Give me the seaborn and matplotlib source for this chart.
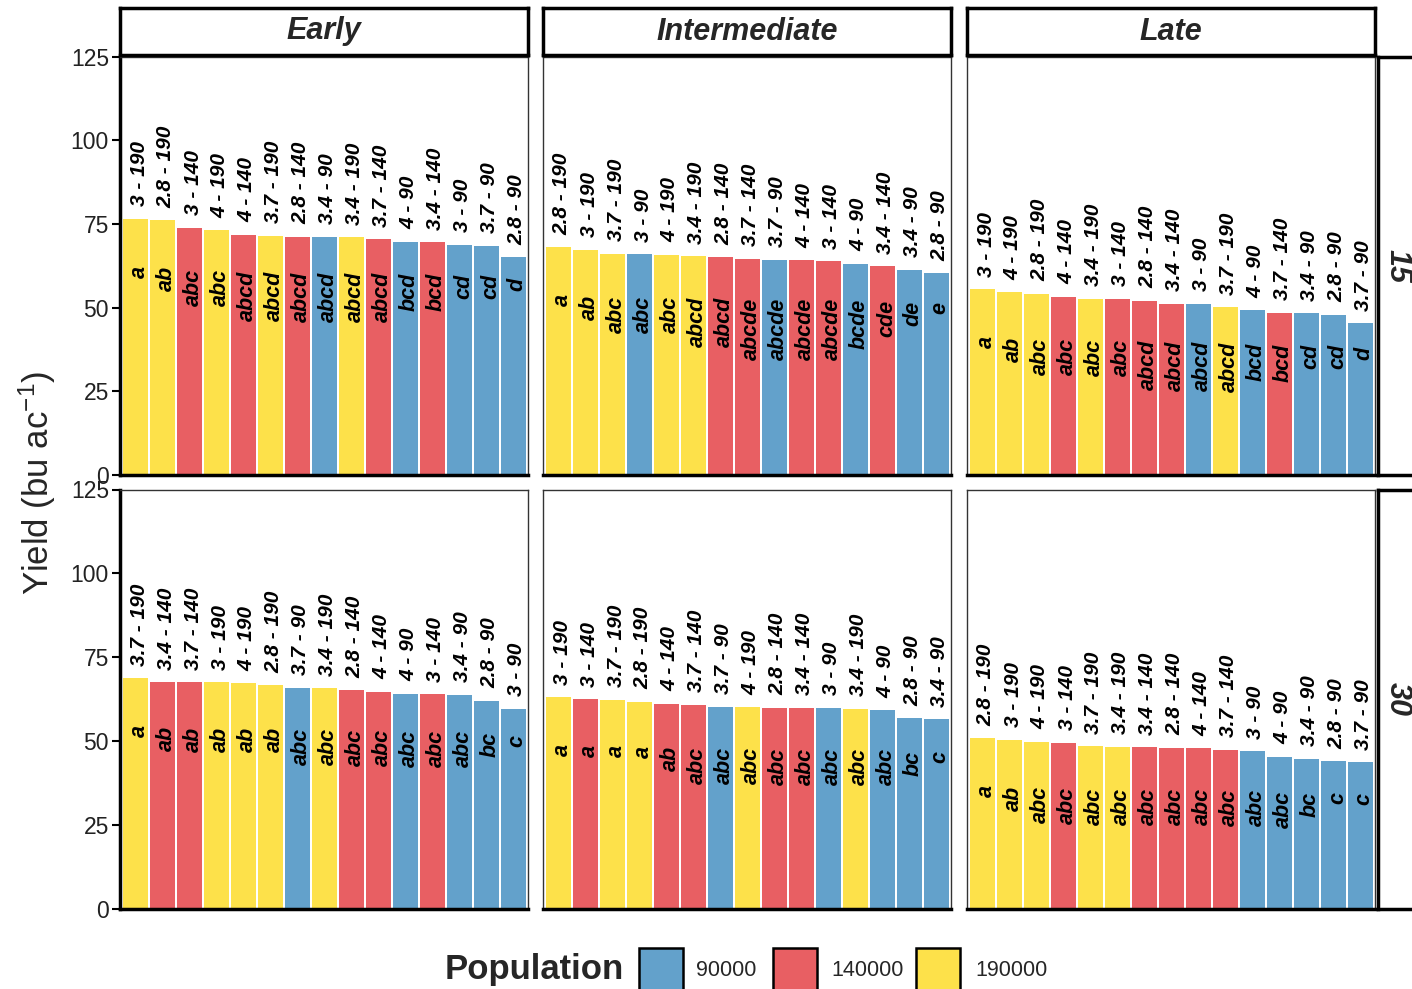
import numpy as np
import pandas as pd
import matplotlib
matplotlib.use("Agg")
import matplotlib.pyplot as plt
import seaborn as sns
from matplotlib.patches import Rectangle

# ---------------- data ----------------
maturity = ["Early", "Intermediate", "Late"]
spacing = ["15", "30"]
pop_levels = [90000, 140000, 190000]
pop_colors = ["#63A1CB", "#E85F63", "#FDE14A"]

early_15_trt = ["3 - 190", "2.8 - 190", "3 - 140", "4 - 190", "4 - 140", "3.7 - 190", "2.8 - 140",
                "3.4 - 90", "3.4 - 190", "3.7 - 140", "4 - 90", "3.4 - 140", "3 - 90", "3.7 - 90", "2.8 - 90"]
early_15_yield = [76.5, 76.1, 73.8, 73.1, 71.7, 71.5, 71.2, 71.1, 71.0, 70.4, 69.6, 69.5, 68.8, 68.4, 65.1]
early_15_grp = ["a", "ab", "abc", "abc", "abcd", "abcd", "abcd", "abcd", "abcd", "abcd",
                "bcd", "bcd", "cd", "cd", "d"]

inter_15_trt = ["2.8 - 190", "3 - 190", "3.7 - 190", "3 - 90", "4 - 190", "3.4 - 190", "2.8 - 140",
                "3.7 - 140", "3.7 - 90", "4 - 140", "3 - 140", "4 - 90", "3.4 - 140", "3.4 - 90", "2.8 - 90"]
inter_15_yield = [68.1, 67.3, 66.1, 65.9, 65.8, 65.3, 65.0, 64.6, 64.3, 64.2, 63.9, 63.1, 62.4, 61.3, 60.3]
inter_15_grp = ["a", "ab", "abc", "abc", "abc", "abcd", "abcd", "abcde", "abcde", "abcde",
                "abcde", "bcde", "cde", "de", "e"]

late_15_trt = ["3 - 190", "4 - 190", "2.8 - 190", "4 - 140", "3.4 - 190", "3 - 140", "2.8 - 140",
               "3.4 - 140", "3 - 90", "3.7 - 190", "4 - 90", "3.7 - 140", "3.4 - 90", "2.8 - 90", "3.7 - 90"]
late_15_yield = [55.5, 54.6, 54.1, 53.3, 52.7, 52.6, 52.0, 51.2, 51.1, 50.1, 49.2, 48.4, 48.3, 47.8, 45.4]
late_15_grp = ["a", "ab", "abc", "abc", "abc", "abc", "abcd", "abcd", "abcd", "abcd",
               "bcd", "bcd", "cd", "cd", "d"]

early_30_trt = ["3.7 - 190", "3.4 - 140", "3.7 - 140", "3 - 190", "4 - 190", "2.8 - 190", "3.7 - 90",
                "3.4 - 190", "2.8 - 140", "4 - 140", "4 - 90", "3 - 140", "3.4 - 90", "2.8 - 90", "3 - 90"]
early_30_yield = [68.8, 67.6, 67.5, 67.5, 67.3, 66.7, 65.9, 65.8, 65.2, 64.7, 64.1, 64.0, 63.8, 62.0, 59.7]
early_30_grp = ["a", "ab", "ab", "ab", "ab", "ab", "abc", "abc", "abc", "abc",
                "abc", "abc", "abc", "bc", "c"]

inter_30_trt = ["3 - 190", "3 - 140", "3.7 - 190", "2.8 - 190", "4 - 140", "3.7 - 140", "3.7 - 90",
                "4 - 190", "2.8 - 140", "3.4 - 140", "3 - 90", "3.4 - 190", "4 - 90", "2.8 - 90", "3.4 - 90"]
inter_30_yield = [63.1, 62.5, 62.3, 61.8, 61.2, 60.8, 60.3, 60.1, 60.0, 59.9, 59.9, 59.7, 59.2, 56.9, 56.6]
inter_30_grp = ["a", "a", "a", "a", "ab", "abc", "abc", "abc", "abc", "abc",
                "abc", "abc", "abc", "bc", "c"]

late_30_trt = ["2.8 - 190", "3 - 190", "4 - 190", "3 - 140", "3.7 - 190", "3.4 - 190", "3.4 - 140",
               "2.8 - 140", "4 - 140", "3.7 - 140", "3 - 90", "4 - 90", "3.4 - 90", "2.8 - 90", "3.7 - 90"]
late_30_yield = [50.9, 50.5, 49.8, 49.5, 48.5, 48.4, 48.2, 48.1, 47.9, 47.5, 47.0, 45.3, 44.8, 44.1, 43.7]
late_30_grp = ["a", "ab", "abc", "abc", "abc", "abc", "abc", "abc", "abc", "abc",
               "abc", "abc", "bc", "c", "c"]

panels = {
    ("15", "Early"): (early_15_trt, early_15_yield, early_15_grp),
    ("15", "Intermediate"): (inter_15_trt, inter_15_yield, inter_15_grp),
    ("15", "Late"): (late_15_trt, late_15_yield, late_15_grp),
    ("30", "Early"): (early_30_trt, early_30_yield, early_30_grp),
    ("30", "Intermediate"): (inter_30_trt, inter_30_yield, inter_30_grp),
    ("30", "Late"): (late_30_trt, late_30_yield, late_30_grp),
}

rows = []
for (sp, mat), (trt, yld, grp) in panels.items():
    for i, (t, y, g) in enumerate(zip(trt, yld, grp)):
        rows.append(dict(spacing=sp, maturity=mat, rank=i, trt=t, yld=y, grp=g,
                         population=int(t.split(" - ")[1]) * 1000))
df = pd.DataFrame(rows)

# ---------------- style ----------------
sns.set_theme(style="white")
plt.rcParams["font.family"] = ["Liberation Sans", "DejaVu Sans"]
plt.rcParams["mathtext.fontset"] = "custom"
plt.rcParams["mathtext.rm"] = "Liberation Sans"
plt.rcParams["mathtext.it"] = "Liberation Sans:italic"
plt.rcParams["mathtext.default"] = "regular"

W, H = 1412, 989
fig = plt.figure(figsize=(W / 100, H / 100), dpi=100)
fig.patch.set_facecolor("white")


def fbox(x0, y0, x1, y1):
    return [x0 / W, 1 - y1 / H, (x1 - x0) / W, (y1 - y0) / H]


col_x = [(120, 528), (543, 951), (967, 1375)]
row_y = [(56.5, 475), (489.5, 909)]
palette = dict(zip(pop_levels, pop_colors))

for r, sp in enumerate(spacing):
    for c, mat in enumerate(maturity):
        x0, x1 = col_x[c]
        y0, y1 = row_y[r]
        ax = fig.add_axes(fbox(x0, y0, x1, y1))
        sub = df[(df.spacing == sp) & (df.maturity == mat)]
        sns.barplot(data=sub, x="rank", y="yld", hue="population", hue_order=pop_levels,
                    palette=palette, dodge=False, width=0.92, saturation=1,
                    linewidth=0, legend=False, ax=ax)
        vmax = sub.yld.max()
        for i, (t, v, g) in enumerate(zip(sub.trt, sub.yld, sub.grp)):
            ax.annotate(t, (i, v), xytext=(2.5, 9), textcoords="offset points",
                        rotation=90, ha="center", va="bottom", fontsize=15,
                        fontweight="bold", fontstyle="italic", color="black")
            ytop = 0.31 * v + 0.69 * vmax - 14.0
            ax.annotate(g, (i, ytop), xytext=(3, 0), textcoords="offset points",
                        rotation=90, ha="center", va="top", fontsize=15.5,
                        fontweight="bold", fontstyle="italic", color="black")
        ax.set_ylim(0, 125)
        ax.set_xlim(-0.58, 14.55)
        ax.set_xticks([])
        ax.set_xlabel("")
        ax.set_ylabel("")
        ax.set_yticks([0, 25, 50, 75, 100, 125])
        if c == 0:
            ax.tick_params(axis="y", left=True, length=6, width=1.5, labelsize=16.5,
                           pad=2, colors="black", labelcolor="#222222")
        else:
            ax.tick_params(axis="y", left=False, labelleft=False)
        for s in ["top", "right", "left"]:
            ax.spines[s].set_linewidth(1.0)
            ax.spines[s].set_color("#333333")
        ax.spines["bottom"].set_linewidth(2.5)
        ax.spines["bottom"].set_color("black")
        if c == 0:
            ax.spines["left"].set_linewidth(2.5)
            ax.spines["left"].set_color("black")

# top strips
for c, mat in enumerate(maturity):
    x0, x1 = col_x[c]
    sax = fig.add_axes(fbox(x0, 8, x1, 55))
    sax.set_xticks([]); sax.set_yticks([])
    for s in sax.spines.values():
        s.set_linewidth(2.5); s.set_color("black")
    sax.text(0.5, 0.5, mat, ha="center", va="center", fontsize=22,
             fontweight="bold", fontstyle="italic", transform=sax.transAxes)

# right strips
for r, sp in enumerate(spacing):
    y0, y1 = row_y[r]
    sax = fig.add_axes(fbox(1378, y0, 1440, y1))
    sax.set_xticks([]); sax.set_yticks([])
    for s in sax.spines.values():
        s.set_linewidth(2.5); s.set_color("black")
    sax.text(20 / 62, 0.5, sp, ha="center", va="center", rotation=270, fontsize=22,
             fontweight="bold", fontstyle="italic", transform=sax.transAxes)

# y label
fig.text(37 / W, 1 - 483 / H, "Yield (bu ac$^{-1}$)", rotation=90, ha="center",
         va="center", fontsize=25)

# legend
fig.text(445 / W, 1 - 970 / H, "Population", fontsize=25, fontweight="bold",
         ha="left", va="center")
key_x = [639, 773, 916]
lab_x = [696, 831, 975]
for kx, lx, lev, col in zip(key_x, lab_x, pop_levels, pop_colors):
    fig.add_artist(Rectangle((kx / W, 1 - 994 / H), 44 / W, 46 / H,
                             transform=fig.transFigure, facecolor=col,
                             edgecolor="black", linewidth=1.8))
    fig.text(lx / W, 1 - 970 / H, str(lev), fontsize=15.5, ha="left", va="center")

fig.savefig("out.png", dpi=100)
